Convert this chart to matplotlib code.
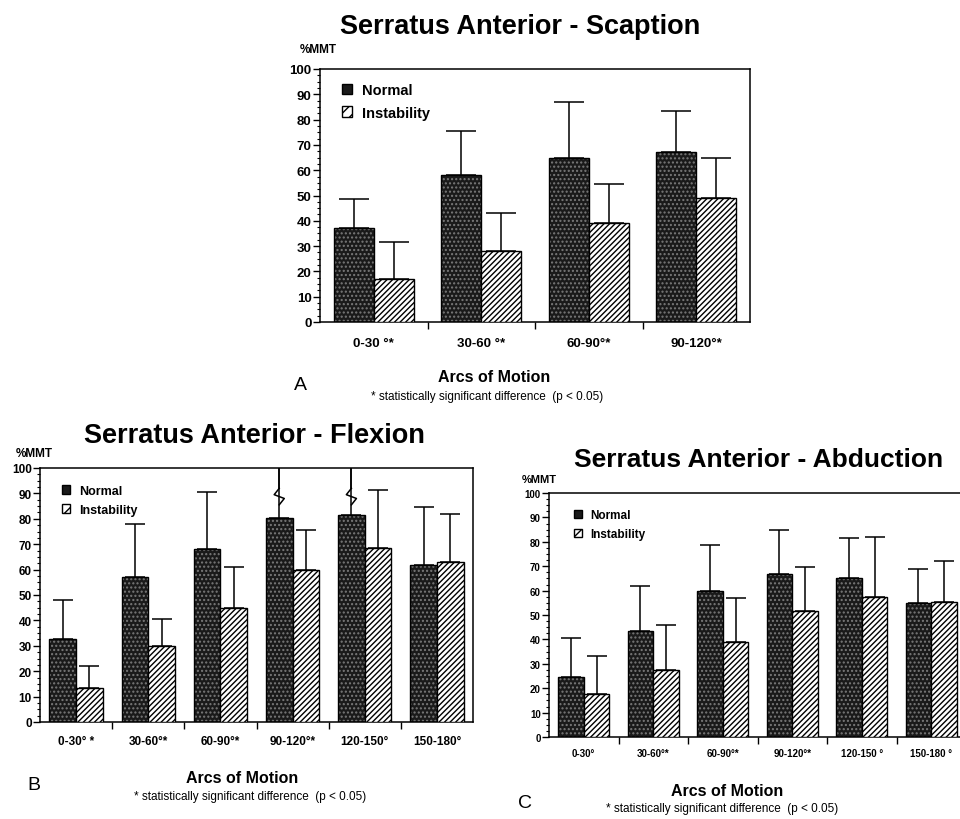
import numpy as np
import matplotlib.pyplot as plt
from matplotlib.patches import Patch
from matplotlib.ticker import MultipleLocator

plt.rcParams['font.family'] = ['Liberation Sans', 'DejaVu Sans']

# Panel A - scaption
scap_labels = ['0-30 °*', '30-60 °*', '60-90°*', '90-120°*']
scap_normal = [37, 58, 65, 67]
scap_normal_sd = [11.5, 17.5, 22, 16.5]
scap_instab = [17, 28, 39, 49]
scap_instab_sd = [14.5, 15, 15.5, 16]

# Panel B - flexion
flex_labels = ['0-30° *', '30-60°*', '60-90°*', '90-120°*', '120-150°', '150-180°']
flex_normal = [32.5, 57, 68, 80.5, 81.5, 62]
flex_normal_sd = [15.5, 21, 22.5, 25, 25, 22.5]
flex_instab = [13.5, 30, 45, 60, 68.5, 63]
flex_instab_sd = [8.5, 10.5, 16, 15.5, 23, 19]
flex_broken = [False, False, False, True, True, False]

# Panel C - abduction
abd_labels = ['0-30°', '30-60°*', '60-90°*', '90-120°*', '120-150 °', '150-180 °']
abd_normal = [24.5, 43.5, 60, 67, 65, 55]
abd_normal_sd = [16, 18.5, 18.5, 18, 16.5, 14]
abd_instab = [17.5, 27.5, 39, 51.5, 57.5, 55.5]
abd_instab_sd = [15.5, 18.5, 18, 18, 24.5, 16.5]

W, H = 960, 820


def fx(x):
    return x / W


def fy(y):
    return 1 - y / H


def panel(rect, labels, normal, nsd, instab, isd, fs, lfs, cap, legend_xy, broken=None):
    ax = fig.add_axes(rect)
    n = len(labels)
    x = np.arange(n) + 0.5
    bw = 0.37
    xn = x - bw / 2
    xi = x + bw / 2
    ax.bar(xn, normal, bw, color='#1a1a1a', hatch='....', edgecolor='#7a7a7a', lw=0, zorder=2)
    ax.bar(xn, normal, bw, fill=False, edgecolor='black', lw=1, zorder=3)
    ax.bar(xi, instab, bw, color='white', hatch='//////', edgecolor='black', lw=1, zorder=3)
    ax.errorbar(xn, normal, yerr=[np.zeros(n), nsd], fmt='none', ecolor='black',
                elinewidth=1.1, capsize=cap, capthick=1.1, zorder=1)
    ax.errorbar(xi, instab, yerr=[np.zeros(n), isd], fmt='none', ecolor='black',
                elinewidth=1.1, capsize=cap, capthick=1.1, zorder=1)
    if broken is not None:
        for xb, b in zip(xn, broken):
            if b:
                ax.plot([xb, xb + 0.07, xb - 0.07, xb], [85.5, 88, 89.5, 92],
                        color='black', lw=1.1, zorder=4)
                ax.plot([xb, xb], [92, 100], color='black', lw=1.1, zorder=4)
    ax.set_xlim(0, n)
    ax.set_ylim(0, 100)
    ax.yaxis.set_major_locator(MultipleLocator(10))
    ax.yaxis.set_minor_locator(MultipleLocator(2.5))
    ax.tick_params(axis='y', which='major', direction='out', length=5, width=1,
                   labelsize=fs, pad=1)
    ax.tick_params(axis='y', which='minor', direction='out', length=2.5, width=0.8)
    for t in ax.get_yticklabels():
        t.set_fontweight('bold')
    ax.set_xticks(x)
    ax.set_xticklabels(labels, fontsize=fs, fontweight='bold')
    ax.set_xticks(np.arange(1, n), minor=True)
    ax.tick_params(axis='x', which='major', length=0, pad=fs * 1.1)
    ax.tick_params(axis='x', which='minor', direction='out', length=5, width=1)
    for s in ax.spines.values():
        s.set_linewidth(1.1)
    handles = [Patch(facecolor='#1a1a1a', edgecolor='black', label='Normal'),
               Patch(facecolor='white', edgecolor='black', hatch='///', label='Instability')]
    ax.legend(handles=handles, loc='upper left', bbox_to_anchor=legend_xy, frameon=False,
              prop={'weight': 'bold', 'size': lfs}, handlelength=0.7, handleheight=0.7,
              handletextpad=0.7, borderpad=0, borderaxespad=0, labelspacing=0.6)
    return ax


fig = plt.figure(figsize=(9.6, 8.2), dpi=100)
note = '* statistically significant difference  (p < 0.05)'

# A
panel([fx(320), fy(323), fx(430), (323 - 70) / H], scap_labels, scap_normal, scap_normal_sd,
      scap_instab, scap_instab_sd, 9.5, 10.5, 11, (0.05, 0.945))
fig.text(fx(520), fy(27), 'Serratus Anterior - Scaption', ha='center', va='center',
         fontsize=19.5, fontweight='bold')
fig.text(fx(318), fy(50), '%MMT', ha='center', va='center', fontsize=8.5, fontweight='bold')
fig.text(fx(494), fy(378), 'Arcs of Motion', ha='center', va='center', fontsize=11.5, fontweight='bold')
fig.text(fx(300), fy(386), 'A', ha='center', va='center', fontsize=14)
fig.text(fx(487), fy(397), note, ha='center', va='center', fontsize=8.5)

# B
panel([fx(40), fy(723), fx(433), (723 - 469) / H], flex_labels, flex_normal, flex_normal_sd,
      flex_instab, flex_instab_sd, 8.5, 9, 7.5, (0.05, 0.935), broken=flex_broken)
fig.text(fx(254), fy(436), 'Serratus Anterior - Flexion', ha='center', va='center',
         fontsize=19.5, fontweight='bold')
fig.text(fx(34), fy(454), '%MMT', ha='center', va='center', fontsize=8.5, fontweight='bold')
fig.text(fx(242), fy(779), 'Arcs of Motion', ha='center', va='center', fontsize=11.5, fontweight='bold')
fig.text(fx(34), fy(786), 'B', ha='center', va='center', fontsize=14)
fig.text(fx(250), fy(797), note, ha='center', va='center', fontsize=8.5)

# C
panel([fx(549), fy(738), fx(417), (738 - 494) / H], abd_labels, abd_normal, abd_normal_sd,
      abd_instab, abd_instab_sd, 7, 8.5, 7.5, (0.06, 0.935))
fig.text(fx(759), fy(460), 'Serratus Anterior - Abduction', ha='center', va='center',
         fontsize=19, fontweight='bold')
fig.text(fx(539), fy(480), '%MMT', ha='center', va='center', fontsize=8, fontweight='bold')
fig.text(fx(727), fy(792), 'Arcs of Motion', ha='center', va='center', fontsize=11.5, fontweight='bold')
fig.text(fx(525), fy(804), 'C', ha='center', va='center', fontsize=14)
fig.text(fx(722), fy(809), note, ha='center', va='center', fontsize=8.5)

fig.savefig('out.png', dpi=100)
